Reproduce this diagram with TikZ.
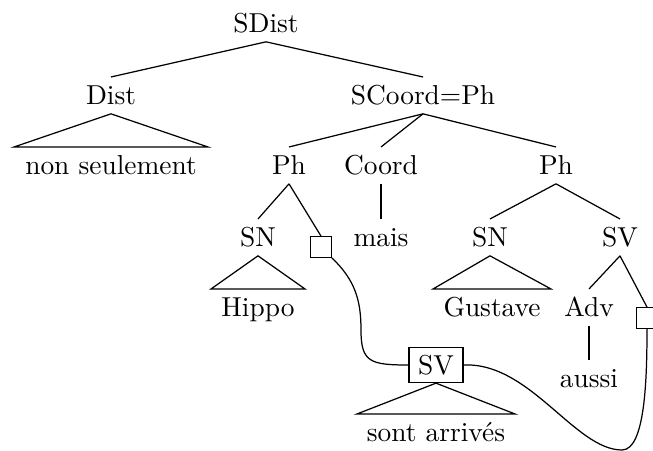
\documentclass[tikz,border=0pt]{standalone}
\usetikzlibrary{calc}
\tikzset{
  cat/.style={inner sep=1pt, text height=9pt, text depth=2pt, anchor=base},
  slot/.style={draw, inner sep=0pt, minimum size=7.5pt},
  moved/.style={draw, inner sep=0pt, minimum width=19.7pt, minimum height=12.8pt},
}
\begin{document}
\begin{tikzpicture}[x=0.365pt, y=-0.365pt, line width=0.45pt]
  \useasboundingbox (0,0) rectangle (653,451);
  \clip (0,0) rectangle (653,451);

  \node[cat] (sdist) at (266,33) {SDist};
  \node[cat] (dist) at (111,105) {Dist};
  \node[cat] (scoord) at (423,105) {SCoord=Ph};
  \node[cat] (nonseul) at (111,175) {non seulement};
  \node[cat] (ph1) at (289,175) {Ph};
  \node[cat] (coord) at (381,175) {Coord};
  \node[cat] (ph2) at (556,175) {Ph};
  \node[cat] (sn1) at (258,247) {SN};
  \node[slot] (t1) at (321,247) {};
  \node[cat] (mais) at (381,247) {mais};
  \node[cat] (sn2) at (490,247) {SN};
  \node[cat] (sv2) at (620,247) {SV};
  \node[cat] (hippo) at (258,317) {Hippo};
  \node[cat] (gustave) at (492,317) {Gustave};
  \node[cat] (adv) at (589,317) {Adv};
  \node[slot] (t2) at (647,318) {};
  \node[cat] (aussi) at (589,388) {aussi};
  \node[moved] (sv1) at (436,365) {SV};
  \node[cat] (arrives) at (436,442) {sont arrivés};

  \draw (sdist.south) -- (dist.north);
  \draw (sdist.south) -- (scoord.north);
  \draw (dist.south) -- ($(nonseul.north)+(-97,0)$) -- ($(nonseul.north)+(97,0)$) -- cycle;

  \draw (scoord.south) -- (ph1.north);
  \draw (scoord.south) -- (coord.north);
  \draw (scoord.south) -- (ph2.north);
  \draw (coord.south) -- (mais.north);

  \draw (ph1.south) -- (sn1.north);
  \draw (ph1.south) -- (t1.north);
  \draw (sn1.south) -- ($(hippo.north)+(-47,0)$) -- ($(hippo.north)+(47,0)$) -- cycle;

  \draw (ph2.south) -- (sn2.north);
  \draw (ph2.south) -- (sv2.north);
  \draw (sn2.south) -- ($(gustave.north)+(-59,0)$) -- ($(gustave.north)+(59,0)$) -- cycle;
  \draw (sv2.south) -- (adv.north);
  \draw (sv2.south) -- (t2.north);
  \draw (adv.south) -- (aussi.north);

  \draw (sv1.south) -- ($(arrives.north)+(-79,0)$) -- ($(arrives.north)+(79,0)$) -- cycle;

  % liens vers les traces
  \draw (t1.south east) .. controls (355,280) and (361,300) .. (361,330)
    .. controls (361,362) and (370,365) .. (sv1.west);
  \draw (sv1.east) .. controls (530,362) and (575,450) .. (622,450)
    .. controls (645,450) and (647,380) .. (t2.south);
\end{tikzpicture}
\end{document}
